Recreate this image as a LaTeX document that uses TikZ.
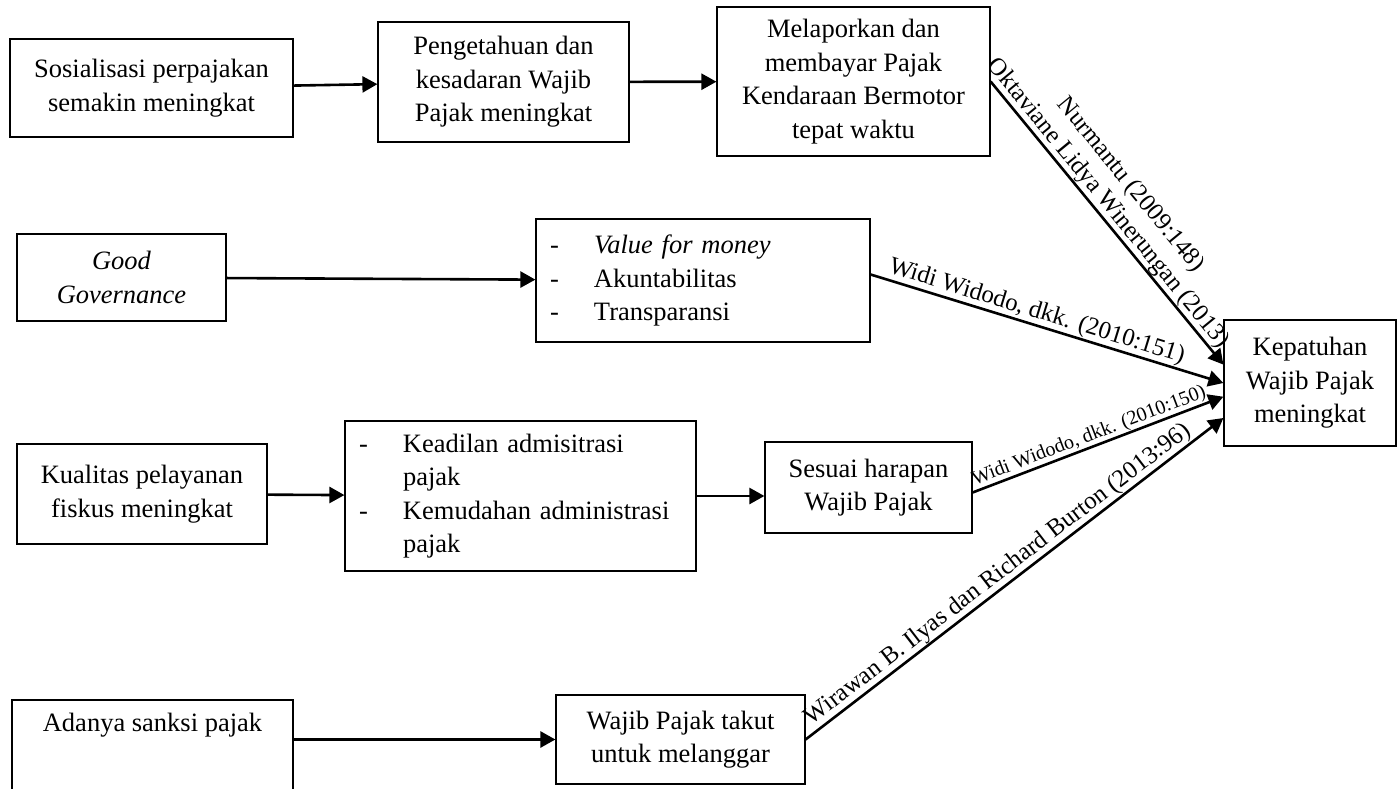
\documentclass[tikz,border=0pt]{standalone}
\usepackage{fontspec}
\setmainfont{Liberation Serif}
\usetikzlibrary{arrows, arrows.meta}
\usetikzlibrary{calc}

\newcommand{\butir}{\makebox[44pt][l]{-}}

\tikzset{
  kotak/.style={draw, line width=1.2pt, inner sep=0pt, align=center, font=\fontsize{26.5}{33.5}\selectfont},
  daftar/.style={kotak, align=left, inner xsep=14pt},
  panah/.style={line width=2.6pt, -{Triangle[length=15pt, width=16pt]}},
  ket/.style={font=\fontsize{24.8}{29}\selectfont, align=center, inner sep=0.5pt, sloped, above}
}

\begin{document}
\begin{tikzpicture}[x=1pt, y=-1pt]
    \useasboundingbox (0,0) rectangle (1398,789);

    \node[kotak, minimum width=283pt, minimum height=98pt] (sos) at (151.5,88) {Sosialisasi perpajakan\\semakin meningkat};
    \node[kotak, minimum width=251pt, minimum height=120pt] (tahu) at (503.5,82) {Pengetahuan dan\\kesadaran Wajib\\Pajak meningkat};
    \node[kotak, minimum width=273pt, minimum height=149pt] (lapor) at (853.5,81.5) {Melaporkan dan\\membayar Pajak\\Kendaraan Bermotor\\tepat waktu};
    \node[kotak, minimum width=209pt, minimum height=87pt, font=\fontsize{26.5}{33.5}\selectfont\itshape] (gg) at (121.5,277.5) {Good\\Governance};
    \node[daftar, text width=306pt, minimum height=123pt] (vfm) at (703,280.5) {\butir\textit{Value for money}\\\butir Akuntabilitas\\\butir Transparansi};
    \node[kotak, minimum width=172pt, minimum height=126pt] (patuh) at (1310,383) {Kepatuhan\\Wajib Pajak\\meningkat};
    \node[kotak, minimum width=250pt, minimum height=100pt] (layan) at (142,494) {Kualitas pelayanan\\fiskus meningkat};
    \node[daftar, text width=323pt, minimum height=150pt] (adil) at (520.5,496) {\butir Keadilan admisitrasi\\\hspace*{44pt}pajak\\\butir Kemudahan administrasi\\\hspace*{44pt}pajak};
    \node[kotak, minimum width=207pt, minimum height=91pt] (harap) at (868.5,487.5) {Sesuai harapan\\Wajib Pajak};
    \node[kotak, minimum width=281pt, minimum height=121pt] (sanksi) at (152.5,760.5) {Adanya sanksi pajak\\\strut\\\strut};
    \node[kotak, minimum width=249pt, minimum height=89pt] (takut) at (680.5,739.5) {Wajib Pajak takut\\untuk melanggar};

    \draw[panah] (sos) -- (tahu);
    \draw[panah] (tahu) -- (lapor);
    \draw[panah] (lapor.east) -- (patuh.168) node[ket, pos=0.46] {Nurmantu (2009:148)\\Oktaviane Lidya Winerungan (2013)};
    \draw[panah] (gg) -- (vfm);
    \draw[panah] ([yshift=6pt]vfm.east) -- (patuh.west) node[ket, pos=0.46] {Widi Widodo, dkk. (2010:151)};
    \draw[panah] (layan) -- (adil);
    \draw[panah] (adil.east) -- (adil.east -| harap.west);
    \draw[panah] ([yshift=-5pt]harap.east) -- (patuh.189) node[ket, font=\fontsize{20}{24}\selectfont, pos=0.48] {Widi Widodo, dkk. (2010:150)};
    \draw[panah] (takut.west -| sanksi.east) -- (takut.west);
    \draw[panah] (takut.east) -- (patuh.202) node[ket, pos=0.48] {Wirawan B. Ilyas dan Richard Burton (2013:96)};
  \end{tikzpicture}
\end{document}
